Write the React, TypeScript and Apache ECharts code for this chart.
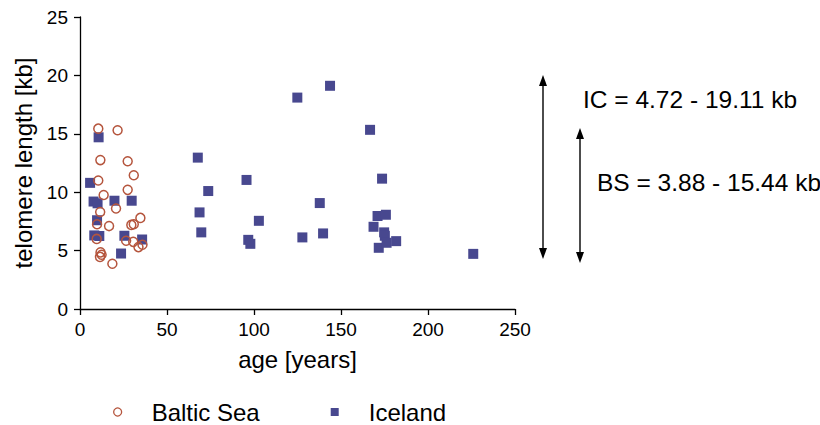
import React, { useEffect, useRef } from "react";
import * as echarts from "echarts";

// Telomere length vs. age, two populations
const balticSea: [number, number][] = [
  [10.5, 15.44], [21.6, 15.3], [11.7, 12.75], [27.4, 12.65], [30.9, 11.45],
  [10.5, 11.0], [27.4, 10.2], [13.6, 9.76], [11.6, 8.3], [20.7, 8.6],
  [9.8, 7.25], [16.7, 7.1], [29.5, 7.2], [30.9, 7.25], [34.7, 7.8],
  [9.6, 6.0], [26.5, 5.84], [30.6, 5.75], [33.6, 5.3], [35.9, 5.5],
  [11.8, 4.85], [12.4, 4.65], [11.5, 4.46], [18.6, 3.88],
];

const iceland: [number, number][] = [
  [5.8, 10.8], [10.7, 14.7], [7.8, 9.2], [10.1, 9.05], [19.8, 9.27],
  [29.7, 9.27], [9.8, 7.6], [8.2, 6.3], [11.1, 6.25], [25.5, 6.27],
  [35.7, 5.95], [23.6, 4.75],
  [67.7, 12.96], [73.7, 10.1], [68.7, 8.27], [69.7, 6.56], [95.7, 11.05],
  [96.7, 5.92], [97.9, 5.58], [102.8, 7.55], [124.9, 18.1], [127.8, 6.13],
  [137.8, 9.07], [139.7, 6.47], [143.7, 19.11], [166.7, 15.34], [168.7, 7.04],
  [171.0, 7.96], [171.7, 5.24], [173.6, 11.16], [174.8, 6.56], [175.2, 6.27],
  [175.8, 8.07], [176.2, 5.67], [181.7, 5.81], [226.0, 4.72],
];

const seriesNames = ["Baltic Sea", "Iceland"];
const rangeLabels = ["IC = 4.72 - 19.11 kb", "BS = 3.88 - 15.44 kb"];

const FONT = "'Liberation Sans', Arial, Helvetica, sans-serif";
const CIRCLE_COLOR = "#b5553d";
const SQUARE_COLOR = "#48488f";

// vertical double-headed arrow built from a line and two triangles
function arrow(x: number, y1: number, y2: number) {
  const hw = 4;
  const hh = 11;
  return {
    type: "group",
    children: [
      {
        type: "line",
        shape: { x1: x, y1: y1 + hh - 1, x2: x, y2: y2 - hh + 1 },
        style: { stroke: "#000", lineWidth: 1.4 },
      },
      {
        type: "polygon",
        shape: { points: [[x, y1], [x - hw, y1 + hh], [x + hw, y1 + hh]] },
        style: { fill: "#000" },
      },
      {
        type: "polygon",
        shape: { points: [[x, y2], [x - hw, y2 - hh], [x + hw, y2 - hh]] },
        style: { fill: "#000" },
      },
    ],
  };
}

export default function App() {
  const ref = useRef<HTMLDivElement>(null);

  useEffect(() => {
    if (!ref.current) return;
    const chart = echarts.init(ref.current, null, { renderer: "svg" });
    const axisCommon = {
      axisLine: { show: true, lineStyle: { color: "#000", width: 1.3 } },
      axisTick: { show: true, inside: false, length: 6, lineStyle: { color: "#000", width: 1.3 } },
      splitLine: { show: false },
      nameLocation: "middle" as const,
      nameTextStyle: { color: "#000", fontSize: 24, fontFamily: FONT },
    };
    chart.setOption({
      animation: false,
      backgroundColor: "#fff",
      textStyle: { fontFamily: FONT },
      grid: { left: 80, right: 305, top: 17, bottom: 116, containLabel: false },
      xAxis: {
        ...axisCommon,
        type: "value",
        min: 0,
        max: 250,
        interval: 50,
        name: "age [years]",
        nameGap: 38,
        axisLabel: { color: "#000", fontSize: 19, margin: 11, fontFamily: FONT },
      },
      yAxis: {
        ...axisCommon,
        type: "value",
        min: 0,
        max: 25,
        interval: 5,
        name: "telomere length [kb]",
        nameGap: 42,
        axisLabel: { color: "#000", fontSize: 19, margin: 12, fontFamily: FONT },
      },
      legend: {
        data: [
          { name: seriesNames[0], icon: "circle", itemStyle: { color: "#fff", borderColor: CIRCLE_COLOR, borderWidth: 1.3 } },
          { name: seriesNames[1], icon: "rect" },
        ],
        left: 108,
        top: 395,
        itemWidth: 8,
        itemHeight: 8,
        itemGap: 71,
        textStyle: { color: "#000", fontSize: 24, fontFamily: FONT, padding: [0, 0, 0, 25] },
      },
      series: [
        {
          name: seriesNames[1],
          type: "scatter",
          symbol: "rect",
          symbolSize: 10,
          itemStyle: { color: SQUARE_COLOR, opacity: 1 },
          data: iceland,
          z: 2,
        },
        {
          name: seriesNames[0],
          type: "scatter",
          symbol: "circle",
          symbolSize: 9,
          itemStyle: { color: "rgba(255,255,255,0)", borderColor: CIRCLE_COLOR, borderWidth: 1.5, opacity: 1 },
          data: balticSea,
          z: 3,
        },
      ],
      graphic: [
        arrow(543, 75, 259),
        arrow(580, 128, 263),
        {
          type: "text",
          left: 583,
          top: 87,
          style: { text: rangeLabels[0], fill: "#000", font: `24.5px ${FONT}` },
        },
        {
          type: "text",
          left: 597,
          top: 170,
          style: { text: rangeLabels[1], fill: "#000", font: `24.5px ${FONT}` },
        },
      ],
    });
    return () => chart.dispose();
  }, []);

  return (
    <div
      ref={ref}
      style={{ position: "fixed", left: 0, top: 0, width: 820, height: 425 }}
    />
  );
}
